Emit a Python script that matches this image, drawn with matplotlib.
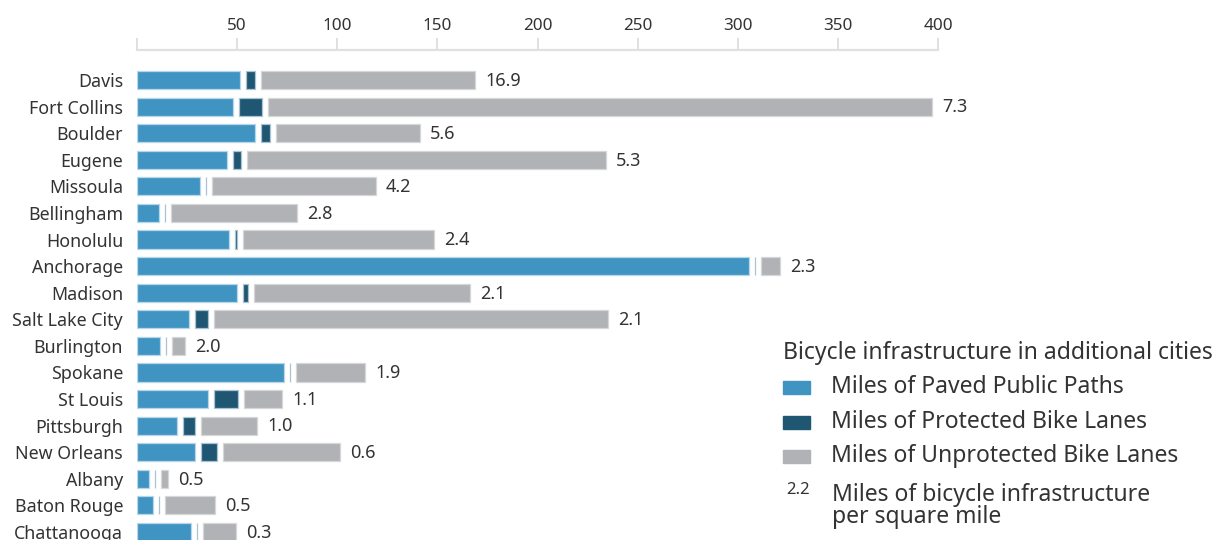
import matplotlib

matplotlib.use("Agg")
import matplotlib.pyplot as plt
from matplotlib.patches import Rectangle

plt.rcParams["font.family"] = ["Noto Sans", "DejaVu Sans"]

CITIES = ["Davis", "Fort Collins", "Boulder", "Eugene", "Missoula", "Bellingham",
          "Honolulu", "Anchorage", "Madison", "Salt Lake City", "Burlington",
          "Spokane", "St Louis", "Pittsburgh", "New Orleans", "Albany",
          "Baton Rouge", "Chattanooga"]
PAVED = [51.5, 48.0, 58.7, 44.8, 31.7, 11.2, 45.8, 305.8, 49.7, 26.0, 11.5,
         73.2, 35.7, 20.0, 29.2, 6.2, 8.2, 27.0]
PROTECTED = [4.5, 11.5, 4.8, 4.2, 0, 0, 1.3, 0, 2.5, 6.3, 0, 0, 11.7, 5.8,
             7.7, 0, 0, 0]
UNPROTECTED = [107.0, 331.7, 71.7, 179.0, 81.7, 62.7, 95.3, 9.3, 108.2, 196.8,
               6.5, 34.7, 19.0, 28.3, 58.5, 3.3, 25.0, 16.3]
DENSITY = ["16.9", "7.3", "5.6", "5.3", "4.2", "2.8", "2.4", "2.3", "2.1",
           "2.1", "2.0", "1.9", "1.1", "1.0", "0.6", "0.5", "0.5", "0.3"]
XTICKS = [0, 50, 100, 150, 200, 250, 300, 350, 400]

INK = "#333333"
BLUE, DARK, GREY = "#4094C2", "#1F5773", "#B1B2B6"
EDGES = ["#B7D6EA", "#A9C3D2", "#D6D7D9"]
GAP = 3.0          # white gap between segments, in data units

W, H = 1221, 540
fig = plt.figure(figsize=(W / 100, H / 100), dpi=100)
ax = fig.add_axes([137 / W, 0, 801 / W, 490 / H])

series = [(PAVED, BLUE), (PROTECTED, DARK), (UNPROTECTED, GREY)]
ys = list(range(len(CITIES)))
for i, y in enumerate(ys):
    left = 0.0
    for k, (vals, col) in enumerate(series):
        ax.barh(y, vals[i], left=left, height=0.68, color=col,
                edgecolor=EDGES[k], linewidth=0.9)
        left += vals[i] + GAP
    ax.text(left - GAP + 5, y + 0.03, DENSITY[i], ha="left", va="center",
            fontsize=13, color=INK)

ax.set_xlim(0, 400)
ax.set_ylim(17.3, -30 / 26.59)
ax.set_yticks(ys)
ax.set_yticklabels(CITIES, fontsize=12.8, color=INK)
ax.tick_params(axis="y", length=0, pad=10)
ax.xaxis.tick_top()
ax.set_xticks(XTICKS)
ax.set_xticklabels([""] + [str(t) for t in XTICKS[1:]], fontsize=12.3,
                   color=INK)
ax.tick_params(axis="x", direction="out", length=8.5, width=1.4,
               color="#E0E0E0", pad=3)
for side in ("right", "bottom", "left"):
    ax.spines[side].set_visible(False)
ax.spines["top"].set_color("#E0E0E0")
ax.spines["top"].set_linewidth(1.6)

# legend, drawn by hand
def fy(py):
    return 1 - py / H

LEG_FS = 16.5
fig.text(783 / W, fy(353), "Bicycle infrastructure in additional cities",
         ha="left", va="center", fontsize=LEG_FS, color=INK)
labels = ["Miles of Paved Public Paths", "Miles of Protected Bike Lanes",
          "Miles of Unprotected Bike Lanes"]
for (vals, col), lab, cy in zip(series, labels, [387, 422, 456]):
    fig.patches.append(Rectangle((783 / W, fy(cy + 6.5)), 27 / W, 13 / H,
                                 transform=fig.transFigure, color=col))
    fig.text(831 / W, fy(cy), lab, ha="left", va="center", fontsize=LEG_FS,
             color=INK)
fig.text(798 / W, fy(490), "2.2", ha="center", va="center", fontsize=12,
         color=INK)
fig.text(832 / W, fy(506), "Miles of bicycle infrastructure\nper square mile",
         ha="left", va="center", fontsize=LEG_FS, color=INK, linespacing=0.9)

fig.savefig("out.png", dpi=100)
